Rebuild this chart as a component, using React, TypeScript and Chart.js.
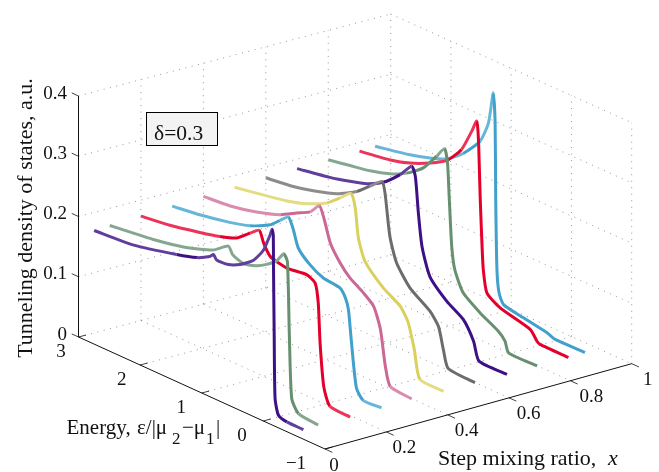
import React, { useEffect, useRef } from "react";
import { Chart, registerables } from "chart.js";

Chart.register(...registerables);

// Step mixing ratio of each curve
const mixing = [0.05, 0.1, 0.2, 0.3, 0.4, 0.5, 0.6, 0.7, 0.8, 0.9, 0.95];
const colors = ["#3D1085", "#66906F", "#E4002B", "#41A0CC", "#CB6896", "#DAD05E", "#6C6C6C", "#3D1085", "#66906F", "#E4002B", "#41A0CC"];
const softColors = ["#5F3E9E", "#85A78F", "#EC3358", "#66B6D9", "#DA8BAE", "#E3DC84", "#8C8C8C", "#5F3E9E", "#85A78F", "#EC3358", "#66B6D9"];

const energyA = [3, 2.37, 1.66, 1.33, 1.12, 1.06, 1.01, 0.84, 0.63, 0.41, 0.25, 0.14, 0.11, 0.09, 0.086, 0.075, 0.06, 0.005, -0.13, -0.4];
const dosA = [0.17, 0.1754, 0.1923, 0.2025, 0.214, 0.22, 0.2133, 0.2141, 0.2236, 0.2408, 0.2648, 0.2955, 0.3063, 0.2977, 0.2477, 0.1375, 0.0274, 0.0023, -0.0025, -0.0027];
const energyB = [3, 2.78, 2.29, 1.8, 1.32, 1.07, 1.0, 0.83, 0.61, 0.45, 0.28, 0.17, 0.11, 0.08, 0.04, -0.07, -0.39];
const dosB = [0.1715, 0.1744, 0.1812, 0.1915, 0.2086, 0.2267, 0.2155, 0.2091, 0.2154, 0.2251, 0.2392, 0.2556, 0.2452, 0.1304, 0.0214, 0.0015, -0.0027];
const energyC = [3, 2.53, 2.04, 1.71, 1.44, 1.22, 1.07, 1.0, 0.89, 0.62, 0.3, 0.16, 0.11, 0.08, 0.02, -0.08, -0.41];
const dosC = [0.1734, 0.1799, 0.1907, 0.1992, 0.2091, 0.2274, 0.2389, 0.2209, 0.2037, 0.197, 0.201, 0.1935, 0.1628, 0.0977, 0.0281, 0.0002, -0.0027];
const energyD = [3, 2.55, 2.06, 1.73, 1.4, 1.24, 1.1, 1.02, 0.94, 0.75, 0.53, 0.26, 0.17, 0.12, 0.07, -0.01, -0.12, -0.42];
const dosD = [0.1764, 0.1827, 0.1927, 0.2023, 0.2191, 0.2337, 0.246, 0.2284, 0.2018, 0.1829, 0.1709, 0.1668, 0.1545, 0.137, 0.0844, 0.0133, -0.0022, -0.001];
const energyE = [3, 2.56, 2.13, 1.74, 1.47, 1.25, 1.1, 1.02, 0.92, 0.76, 0.6, 0.38, 0.21, 0.1, 0.02, -0.06, -0.41];
const dosE = [0.179, 0.1832, 0.193, 0.2065, 0.2216, 0.2336, 0.2507, 0.2311, 0.1968, 0.1713, 0.1538, 0.1391, 0.1243, 0.0907, 0.0334, 0.004, -0.0005];
const energyF = [3, 2.47, 2.14, 1.82, 1.49, 1.27, 1.09, 1.02, 0.97, 0.86, 0.56, 0.28, 0.15, 0.05, -0.04, -0.43];
const dosF = [0.1804, 0.1904, 0.1972, 0.2073, 0.2236, 0.242, 0.2575, 0.2367, 0.1899, 0.1555, 0.1252, 0.1073, 0.0859, 0.0458, 0.0007, -0.0012];
const energyG = [3, 2.55, 2.22, 1.83, 1.5, 1.29, 1.09, 1.04, 0.96, 0.85, 0.63, 0.3, 0.16, 0.08, 0.0, -0.44];
const dosG = [0.1826, 0.1887, 0.1967, 0.2095, 0.2284, 0.2467, 0.2638, 0.247, 0.1787, 0.1397, 0.1081, 0.0844, 0.0653, 0.0309, 0.003, -0.0005];
const energyH = [3, 2.46, 2.13, 1.85, 1.58, 1.3, 1.11, 1.05, 1.0, 0.94, 0.81, 0.53, 0.26, 0.09, 0.0, -0.46];
const dosH = [0.1842, 0.1942, 0.2027, 0.2115, 0.2262, 0.2517, 0.2742, 0.2601, 0.2018, 0.1488, 0.1048, 0.0764, 0.0586, 0.0301, 0.0012, 0];
const energyI = [3, 2.64, 2.31, 1.98, 1.7, 1.43, 1.21, 1.08, 1.03, 1.0, 0.96, 0.91, 0.77, 0.49, 0.19, 0.08, 0.02, -0.45];
const dosI = [0.1852, 0.192, 0.1983, 0.2085, 0.2221, 0.243, 0.2724, 0.291, 0.2694, 0.2101, 0.1342, 0.098, 0.0656, 0.045, 0.0282, 0.0168, 0, -0.0003];
const energyJ = [3, 2.49, 2.16, 1.83, 1.55, 1.31, 1.14, 1.06, 1.03, 1.0, 0.97, 0.95, 0.89, 0.67, 0.17, 0.06, 0.01, -0.46];
const dosJ = [0.186, 0.1945, 0.2042, 0.2193, 0.2362, 0.2653, 0.3033, 0.3236, 0.2945, 0.196, 0.1198, 0.0822, 0.0462, 0.0312, 0.0179, 0.0035, 0.0005, 0];
const energyK = [3, 2.42, 2.09, 1.81, 1.54, 1.26, 1.12, 1.04, 1.01, 1.0, 0.98, 0.945, 0.87, 0.54, 0.15, 0.02, -0.48];
const dosK = [0.1874, 0.1993, 0.209, 0.2199, 0.2412, 0.2743, 0.3111, 0.3648, 0.3163, 0.1894, 0.0738, 0.0369, 0.0206, 0.0136, 0.0065, 0.0017, 0.0022];

const energies = [energyA, energyB, energyC, energyD, energyE, energyF, energyG, energyH, energyI, energyJ, energyK];
const doses = [dosA, dosB, dosC, dosD, dosE, dosF, dosG, dosH, dosI, dosJ, dosK];

const mixingTicks = [0, 0.2, 0.4, 0.6, 0.8, 1];
const energyTicks = [3, 2, 1, 0, -1];
const dosTicks = [0, 0.1, 0.2, 0.3, 0.4];

const E_MAX = 3, E_MIN = -1, Z_MAX = 0.4;
const cornerA = [78.5, 337], cornerB = [325, 449], cornerC = [631.7, 363.7], cornerD = [390.7, 255];
const zScale = 602.5;

// view projection of the 3-D axes box onto the chart's two linear scales
function project(e: number, m: number, z: number) {
  const s = (E_MAX - e) / (E_MAX - E_MIN);
  const at = (i: number) =>
    (1 - s) * ((1 - m) * cornerA[i] + m * cornerD[i]) + s * ((1 - m) * cornerB[i] + m * cornerC[i]);
  return { x: at(0), y: at(1) - z * zScale };
}

const SERIF = '"Liberation Serif", serif';

function lineSet(points: { x: number; y: number }[], color: string, width: number, dash: number[] = []) {
  return {
    data: points,
    showLine: true,
    borderColor: color,
    borderWidth: width,
    borderDash: dash,
    pointRadius: 0,
    tension: 0,
    fill: false,
  };
}

function buildDatasets() {
  const sets: any[] = mixing.map((m, i) => {
    const last = mixing.length - 1;
    // the last peak is the tallest point of a curve; the first curves have two peaks
    const peak = doses[i].indexOf(Math.max(...doses[i]));
    return {
      label: `x=${m}`,
      data: energies[i].map((e, j) => project(e, m, doses[i][j])),
      showLine: true,
      borderColor: colors[i],
      borderWidth: 3,
      pointRadius: 0,
      tension: 0.2,
      borderCapStyle: "butt",
      borderJoinStyle: "round",
      fill: false,
      segment: {
        borderColor: (ctx: any) => {
          const idx = ctx.p0DataIndex;
          const e = energies[i][idx];
          const soft = e > 1.75 || e < -0.03 || (idx < peak && e < 1.35);
          return soft && i <= last ? softColors[i] : colors[i];
        },
      },
    };
  });
  const black = "#111111";
  // axes
  sets.push(lineSet([project(E_MAX, 0, 0), project(E_MAX, 0, Z_MAX)], black, 1));
  sets.push(lineSet([project(E_MAX, 0, 0), project(E_MIN, 0, 0)], black, 1));
  sets.push(lineSet([project(E_MIN, 0, 0), project(E_MIN, 1, 0)], black, 1));
  // ticks
  dosTicks.forEach((z) => sets.push(lineSet([project(E_MAX, 0, z), project(E_MAX + 0.11, 0, z)], black, 0.8)));
  energyTicks.forEach((e) => sets.push(lineSet([project(e, 0, 0), project(e, 0.024, 0)], black, 0.8)));
  mixingTicks.forEach((m) => sets.push(lineSet([project(E_MIN, m, 0), project(E_MIN - 0.12, m, 0)], black, 0.8)));
  // dotted grid
  const grid = "#8a8a8a";
  const dash = [1, 5.5];
  dosTicks.forEach((z) => {
    sets.push(lineSet([project(E_MAX, 0, z), project(E_MAX, 1, z)], grid, 0.9, dash));
    sets.push(lineSet([project(E_MAX, 1, z), project(E_MIN, 1, z)], grid, 0.9, dash));
  });
  mixingTicks.forEach((m) => {
    if (m > 0) sets.push(lineSet([project(E_MAX, m, 0), project(E_MAX, m, Z_MAX)], grid, 0.9, dash));
    if (m > 0 && m < 1) sets.push(lineSet([project(E_MAX, m, 0), project(E_MIN, m, 0)], grid, 0.9, dash));
  });
  energyTicks.forEach((e) => {
    if (e < E_MAX) sets.push(lineSet([project(e, 1, 0), project(e, 1, Z_MAX)], grid, 0.9, dash));
    if (e < E_MAX && e > E_MIN) sets.push(lineSet([project(e, 0, 0), project(e, 1, 0)], grid, 0.9, dash));
  });
  return sets;
}

const energyLabelShift = [-17.5, -18.5, -20.5, -21.5, -29];
const mixingLabelShift = [9, 18, 19, 19.6, 21, 16];

const textPlugin = {
  id: "labels3d",
  afterDraw(chart: any) {
    const c: CanvasRenderingContext2D = chart.ctx;
    c.save();
    c.fillStyle = "#111111";
    c.textBaseline = "alphabetic";
    const put = (t: string, x: number, y: number, size = 22, style = "") => {
      c.font = `${style} ${size}px ${SERIF}`;
      c.textAlign = "left";
      c.fillText(t, x, y);
    };
    const right = (t: string, x: number, y: number) => {
      c.font = `19px ${SERIF}`;
      c.textAlign = "right";
      c.fillText(t, x, y);
    };
    const center = (t: string, x: number, y: number) => {
      c.font = `19px ${SERIF}`;
      c.textAlign = "center";
      c.fillText(t, x, y);
    };
    // vertical axis ticks
    dosTicks.forEach((z) => {
      const p = project(E_MAX, 0, z);
      right(String(z), p.x - 11.5, p.y + 2.7);
    });
    // energy ticks
    energyTicks.forEach((e, i) => {
      const p = project(e, 0, 0);
      center(e < 0 ? `\u2212${-e}` : String(e), p.x + energyLabelShift[i], p.y + 20);
    });
    // mixing ticks
    mixingTicks.forEach((m, i) => {
      const p = project(E_MIN, m, 0);
      center(String(m), p.x + mixingLabelShift[i], p.y + 21.5);
    });
    // axis titles
    put("Step mixing ratio,", 438, 465.3);
    put("x", 608, 465.3, 22, "italic");
    put("Energy,", 66.5, 433.7, 21);
    put("\u03B5/|\u03BC", 137, 433.7, 21);
    put("2", 172, 444, 17);
    put("\u2212\u03BC", 182, 433.7, 21);
    put("1", 206, 444, 17);
    put("|", 216, 433.7, 21);
    c.save();
    c.translate(32, 218);
    c.rotate(-Math.PI / 2);
    c.font = `22px ${SERIF}`;
    c.textAlign = "center";
    c.fillText("Tunneling density of states, a.u.", 0, 0);
    c.restore();
    // annotation box
    c.fillStyle = "#F3F3F3";
    c.fillRect(146.5, 112.5, 71, 33);
    c.strokeStyle = "#000000";
    c.lineWidth = 1;
    c.strokeRect(146.5, 112.5, 71, 33);
    c.fillStyle = "#111111";
    put("\u03B4=0.3", 154, 140, 21.5);
    c.restore();
  },
};

export default function App() {
  const ref = useRef<HTMLCanvasElement | null>(null);
  useEffect(() => {
    document.body.style.margin = "0";
    const chart = new Chart(ref.current as HTMLCanvasElement, {
      type: "scatter",
      data: { datasets: buildDatasets() },
      options: {
        animation: false,
        responsive: false,
        layout: { padding: 0 },
        plugins: { legend: { display: false }, tooltip: { enabled: false } },
        scales: {
          x: { type: "linear", min: 0, max: 659, display: false },
          y: { type: "linear", min: 0, max: 472, reverse: true, display: false },
        },
      },
      plugins: [textPlugin],
    } as any);
    return () => chart.destroy();
  }, []);
  return <canvas ref={ref} width={659} height={472} style={{ display: "block", background: "#fff" }} />;
}
